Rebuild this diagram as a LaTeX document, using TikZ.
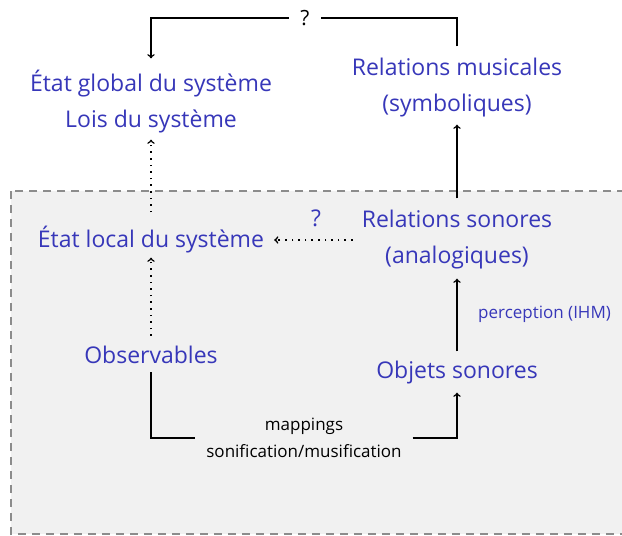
\documentclass[tikz,border=0pt]{standalone}
\usepackage{fontspec}
\setmainfont{Open Sans}
\definecolor{bleu}{RGB}{55,55,185}
\definecolor{fond}{RGB}{241,241,241}
\definecolor{bord}{RGB}{140,140,140}
\tikzset{
  concept/.style={text=bleu, font=\fontsize{23}{36}\selectfont, align=center, inner sep=2pt},
  petit/.style={font=\fontsize{17}{27}\selectfont, align=center, inner sep=2pt},
  fleche/.style={->, line width=1.6pt},
  pointille/.style={->, line width=1.6pt, dash pattern=on 1.6pt off 5pt}
}
\begin{document}
\begin{tikzpicture}[x=1pt, y=-1pt]

    \useasboundingbox (0,0) rectangle (622,536);
    \fill[white] (0,0) rectangle (622,536);

    % zone locale
    \draw[fill=fond, draw=bord, line width=1.5pt, dash pattern=on 8pt off 6pt] (11,191) rectangle (640,534);

    \node[concept] (etatglobal) at (151,102) {État global du système\\Lois du système};
    \node[concept] (relmus) at (457,88) {Relations musicales\\(symboliques)};
    \node[concept] (relson) at (457,240) {Relations sonores\\(analogiques)};
    \node[concept] (etatlocal) at (151,240) {État local du système};
    \node[concept] (observ) at (151,355) {Observables};
    \node[concept] (objson) at (457,373) {Objets sonores};

    \node[petit, font=\fontsize{21}{27}\selectfont, minimum width=32pt] (q) at (305,18) {?};
    \node[concept] (qlocal) at (316,218) {?};
    \node[petit, text=bleu, anchor=west] (ihm) at (476,314) {perception (IHM)};
    \node[petit, minimum width=217pt] (mapping) at (304,438) {mappings\\sonification/musification};

    \draw[line width=1.6pt] ([yshift=10pt]relmus.north) |- (q.east);
    \draw[fleche] (q.west) -| ([yshift=10pt]etatglobal.north);
    \draw[fleche] ([yshift=10pt]relson.north) -- ([yshift=-5pt]relmus.south);
    \draw[fleche] ([yshift=8pt]objson.north) -- ([yshift=-7pt]relson.south);
    \draw[pointille] ([yshift=12pt]etatlocal.north) -- ([yshift=-4pt]etatglobal.south);
    \draw[pointille] ([yshift=8pt]observ.north) -- ([yshift=-2pt]etatlocal.south);
    \draw[pointille] ([xshift=-7pt]relson.west |- etatlocal.east) -- ([xshift=8pt]etatlocal.east);
    \draw[line width=1.6pt] ([yshift=-6pt]observ.south) |- (mapping.west);
    \draw[fleche] (mapping.east) -| ([yshift=-6pt]objson.south);
\end{tikzpicture}
\end{document}
